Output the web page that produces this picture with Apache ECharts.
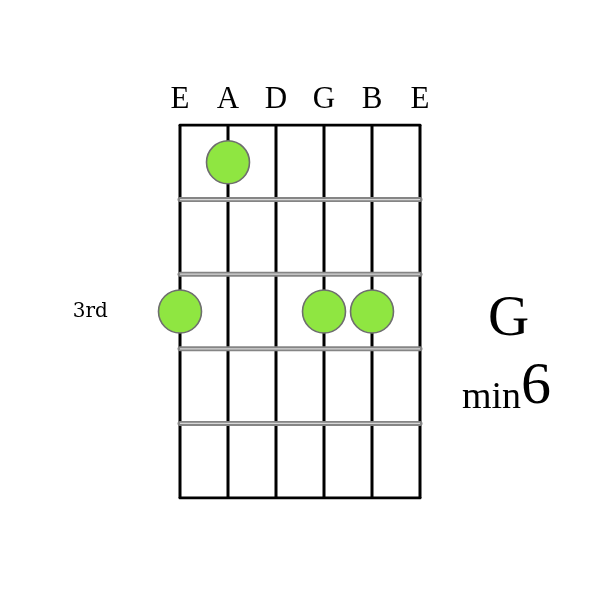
<!DOCTYPE html>
<html><head><meta charset="utf-8">
<script src="https://cdn.jsdelivr.net/npm/echarts@6/dist/echarts.min.js"></script>
<style>html,body{margin:0;padding:0;background:#fff}#c{width:600px;height:600px}</style>
</head><body><div id="c"></div>
<script>
var strings = ['E', 'A', 'D', 'G', 'B', 'E'];
var fretCount = 5;
var startFretLabel = '3rd';
var startFretRow = 3;
// [string index, fret row] for each finger dot
var dots = [[1, 1], [0, 3], [3, 3], [4, 3]];
var chordRoot = 'G';
var chordQuality = 'min';
var chordExt = '6';

var chart = echarts.init(document.getElementById('c'));
var series = [];
// strings
strings.forEach(function (s, i) {
  series.push({type: 'line', data: [[i, 0], [i, fretCount]], symbol: 'none', silent: true,
    lineStyle: {color: '#000', width: 3}, z: 2});
});
// nut and bottom
[0, fretCount].forEach(function (f) {
  series.push({type: 'line', data: [[0, f], [strings.length - 1, f]], symbol: 'none', silent: true,
    lineStyle: {color: '#000', width: 3, cap: 'round'}, z: 3});
});
// frets
for (var f = 1; f < fretCount; f++) {
  series.push({type: 'line', data: [[0, f], [strings.length - 1, f]], symbol: 'none', silent: true,
    lineStyle: {color: '#858585', width: 5, cap: 'round'}, z: 3});
  series.push({type: 'line', data: [[0, f], [strings.length - 1, f]], symbol: 'none', silent: true,
    lineStyle: {color: '#d8d8d8', width: 1.2}, z: 4});
}
// dots
series.push({type: 'scatter', data: dots.map(function (d) { return [d[0], d[1] - 0.5]; }),
  symbol: 'circle', symbolSize: 43, z: 10,
  itemStyle: {color: '#8fe641', borderColor: '#6e6e6e', borderWidth: 1.6, opacity: 1}});
// start fret label
series.push({type: 'scatter', data: [[-1.87, startFretRow - 0.5]], symbolSize: 0, clip: false,
  itemStyle: {opacity: 1},
  label: {show: true, position: 'inside', formatter: startFretLabel,
    fontFamily: 'DejaVu Serif', fontSize: 20, color: '#000', opacity: 1}});

chart.setOption({
  animation: false,
  grid: {left: 180, right: 180, top: 125, bottom: 102},
  xAxis: {type: 'value', min: 0, max: strings.length - 1, interval: 1, position: 'top',
    axisLine: {show: false}, axisTick: {show: false}, splitLine: {show: false},
    axisLabel: {margin: 10, fontFamily: 'Liberation Serif', fontSize: 31, color: '#000',
      formatter: function (v) { return strings[v] || ''; }}},
  yAxis: {type: 'value', min: 0, max: fretCount, inverse: true, show: false},
  series: series,
  graphic: [
    {type: 'text', left: 488, top: 292, style: {text: chordRoot, font: '57px "Liberation Serif"', fill: '#000'}},
    {type: 'text', left: 462, top: 357, style: {
      text: '{q|' + chordQuality + '}{e|' + chordExt + '}',
      rich: {
        q: {font: '38px "Liberation Serif"', fill: '#000', verticalAlign: 'bottom'},
        e: {font: '60px "Liberation Serif"', fill: '#000', verticalAlign: 'bottom'}
      }}}
  ]
});
</script></body></html>
